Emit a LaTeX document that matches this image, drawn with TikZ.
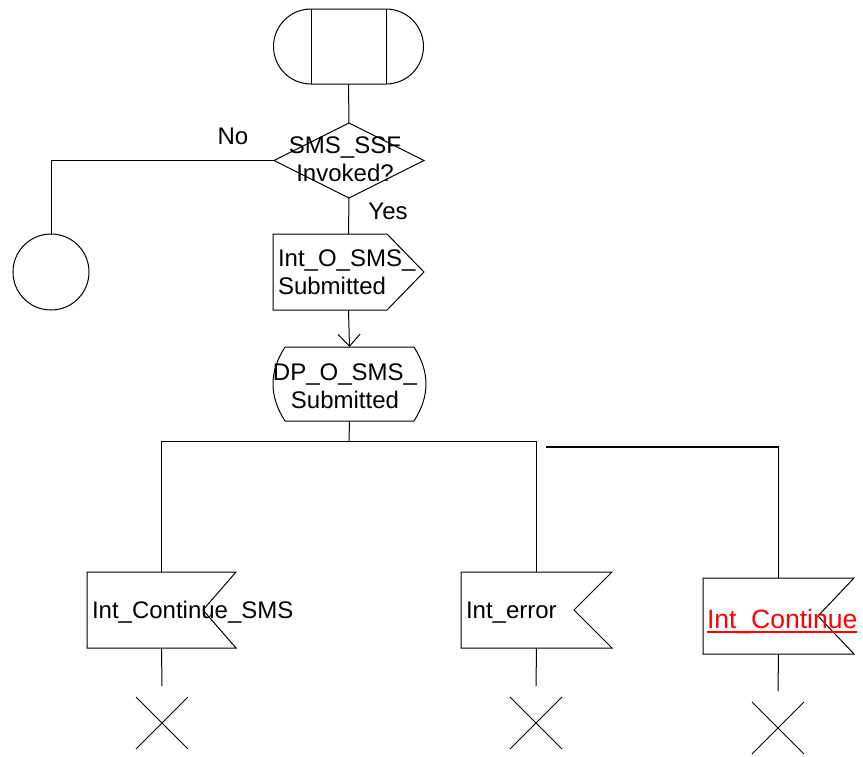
\documentclass[tikz,border=0pt]{standalone}
\usepackage{fontspec}
\setmainfont{Liberation Sans}
\usetikzlibrary{arrows.meta,calc}
\begin{document}
\begin{tikzpicture}[x=1pt,y=-1pt,
  ln/.style={line width=1pt, draw=black},
  box/.style={rectangle, inner sep=0pt, outer sep=0pt},
  lbl/.style={inner sep=0pt, outer sep=0pt, font=\fontsize{24}{28}\selectfont, align=center},
  redlbl/.style={inner sep=0pt, outer sep=0pt, font=\fontsize{26.5}{30}\selectfont, text=red},
  stopx/.style={rectangle, inner sep=0pt, outer sep=0pt, minimum size=52pt},
  arr/.style={-{Straight Barb[length=12pt, width=22pt]}}
]
\useasboundingbox (0,0) rectangle (863,756);

% start
\node[box, minimum width=75pt, minimum height=75pt] (start) at (348.5,46.5) {};
\draw[ln] (start.north west) -- (start.north east)
  arc[start angle=90, end angle=-90, radius=37.5pt]
  -- (start.south west)
  arc[start angle=270, end angle=90, radius=37.5pt] -- cycle;
\draw[ln] (start.north west) -- (start.south west);
\draw[ln] (start.north east) -- (start.south east);

% decision
\node[box, minimum width=150pt, minimum height=75pt] (dec) at (349,160.5) {};
\draw[ln] (dec.north) -- (dec.east) -- (dec.south) -- (dec.west) -- cycle;
\node[lbl] (dectxt) at (345,159.5) {SMS\_SSF\\Invoked?};
\node[lbl] (no) at (233,136) {No};
\node[lbl] (yes) at (388,211) {Yes};

% connector circle
\node[circle, draw, line width=1pt, minimum size=76pt, inner sep=0pt] (conn) at (51,272) {};

% output signal
\node[box, minimum width=151pt, minimum height=76pt] (out) at (348.5,272) {};
\draw[ln] (out.north west) -- ++(114,0) -- (out.east)
  -- ($(out.south west)+(114,0)$) -- (out.south west) -- cycle;
\node[lbl, align=left, anchor=west] (outtxt) at (278,272.5) {Int\_O\_SMS\_\\Submitted};

% DP box
\node[box, minimum width=129pt, minimum height=74pt] (dp) at (349.5,384) {};
\draw[ln] (dp.north west) -- (dp.north east)
  .. controls +(16,25) and +(16,-25) .. (dp.south east)
  -- (dp.south west)
  .. controls +(-16,-25) and +(-16,25) .. (dp.north west);
\node[lbl] (dptxt) at (345,386) {DP\_O\_SMS\_\\Submitted};

% inputs
\node[box, minimum width=149pt, minimum height=76pt] (in1) at (161.5,610) {};
\draw[ln] (in1.north west) -- (in1.north east) -- ($(in1.east)+(-33,0)$)
  -- (in1.south east) -- (in1.south west) -- cycle;
\node[lbl, anchor=base west] (t1) at (92,618) {Int\_Continue\_SMS};

\node[box, minimum width=151pt, minimum height=76pt] (in2) at (536.5,610) {};
\draw[ln] (in2.north west) -- (in2.north east) -- ($(in2.east)+(-38,0)$)
  -- (in2.south east) -- (in2.south west) -- cycle;
\node[lbl, anchor=base west] (t2) at (466,618) {Int\_error};

\node[box, minimum width=151pt, minimum height=76pt] (in3) at (778.5,616) {};
\draw[ln] (in3.north west) -- (in3.north east) -- ($(in3.east)+(-36,0)$)
  -- (in3.south east) -- (in3.south west) -- cycle;
\node[redlbl, anchor=base west] (t3) at (707,628) {Int\_Continue};
\draw[red, line width=1.6pt] ($(t3.base west)+(0,4)$) -- ($(t3.base east)+(0,4)$);

% stops
\node[stopx] (x1) at (162,723) {};
\node[stopx] (x2) at (536,723) {};
\node[stopx] (x3) at (778,728) {};
\foreach \s in {x1,x2,x3}{
  \draw[ln] (\s.north west) -- (\s.south east) (\s.north east) -- (\s.south west);
}

% connectors
\coordinate (br) at (349,441);
\coordinate (rfree) at (546,447);
\coordinate (rcorner) at (in3.north |- rfree);
\draw[ln] (start.south) -- (dec.north);
\draw[ln] (dec.west) -| (conn.north);
\draw[ln] (dec.south) -- (out.north);
\draw[ln, arr] (out.south) -- (dp.north);
\draw[ln] (dp.south) -- (br);
\draw[ln] (in1.north) -- (in1.north |- br) -- (in2.north |- br) -- (in2.north);
\draw[line width=2pt] (rfree) -- (rcorner);
\draw[ln] (rcorner) -- (in3.north);
\draw[ln] (in1.south) -- ($(x1.north)+(0,-11)$);
\draw[ln] (in2.south) -- ($(x2.north)+(0,-11)$);
\draw[ln] (in3.south) -- ($(x3.north)+(0,-11)$);
\end{tikzpicture}
\end{document}
